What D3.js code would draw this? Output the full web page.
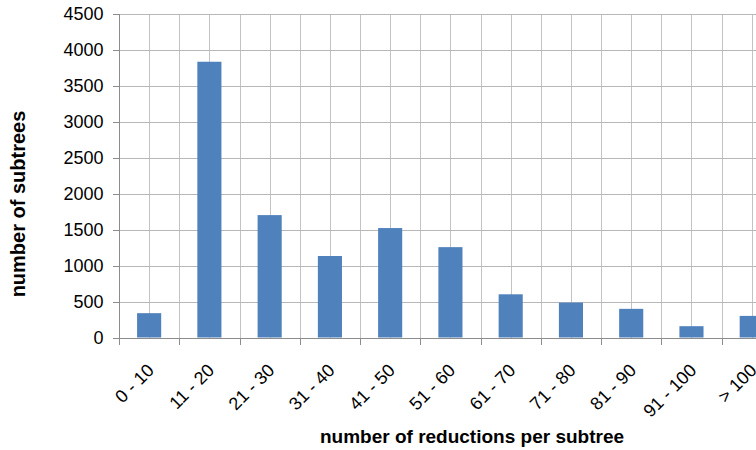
<!DOCTYPE html>
<html>
<head>
<meta charset="utf-8">
<script src="https://cdn.jsdelivr.net/npm/d3@7"></script>
<style>
  html, body { margin: 0; padding: 0; background: #ffffff; }
  svg { display: block; font-family: "Liberation Sans", Arial, sans-serif; }
</style>
</head>
<body>
<svg id="chart" width="756" height="450"></svg>
<script>
// Histogram of reductions per subtree
const categories = ["0 - 10", "11 - 20", "21 - 30", "31 - 40", "41 - 50", "51 - 60",
                    "61 - 70", "71 - 80", "81 - 90", "91 - 100", "> 100"];
const subtreeCounts = [338, 3830, 1700, 1132, 1520, 1255, 600, 485, 398, 157, 300];
const yTicks = [0, 500, 1000, 1500, 2000, 2500, 3000, 3500, 4000, 4500];

const svg = d3.select("#chart");
const plot = { left: 119, top: 13.5, bottom: 337.5 };
const step = 60.26;
const plotRight = plot.left + step * categories.length;

const x = d3.scaleBand().domain(categories).range([plot.left, plotRight]).padding(0);
const y = d3.scaleLinear().domain([0, 4500]).range([plot.bottom, plot.top]);

// vertical gridlines at every half category
const half = d3.scaleLinear().domain([0, categories.length]).range([plot.left, plotRight]);
const halfSteps = d3.range(1, categories.length * 2 + 1).map(i => i / 2);

const grid = svg.append("g").attr("shape-rendering", "crispEdges");
grid.selectAll("line.v").data(halfSteps).join("line")
  .attr("class", "v")
  .attr("x1", d => Math.round(half(d)) + 0.5).attr("x2", d => Math.round(half(d)) + 0.5)
  .attr("y1", plot.top).attr("y2", plot.bottom)
  .attr("stroke", "#c3c3c3").attr("stroke-width", 1);
grid.selectAll("line.h").data(yTicks.filter(d => d > 0)).join("line")
  .attr("class", "h")
  .attr("x1", plot.left).attr("x2", plotRight)
  .attr("y1", d => Math.round(y(d)) + 0.5).attr("y2", d => Math.round(y(d)) + 0.5)
  .attr("stroke", "#b8b8b8").attr("stroke-width", 1);

// bars: 40% of the category width, centred in each category
const barW = x.bandwidth() * 0.4;
svg.append("g").selectAll("rect").data(categories).join("rect")
  .attr("x", d => x(d) + (x.bandwidth() - barW) / 2)
  .attr("width", barW)
  .attr("y", (d, i) => y(subtreeCounts[i]))
  .attr("height", (d, i) => y(0) - y(subtreeCounts[i]))
  .attr("fill", "#4f81bd");

// y axis
const yAxis = d3.axisLeft(y).tickValues(yTicks).tickSize(6).tickPadding(9).tickFormat(d3.format("d"));
const gy = svg.append("g").attr("transform", `translate(${plot.left - 0.5},0)`).call(yAxis);
gy.select(".domain").attr("stroke", "#8c8c8c").attr("shape-rendering", "crispEdges");
gy.selectAll(".tick line").attr("stroke", "#8c8c8c").attr("shape-rendering", "crispEdges");
gy.selectAll(".tick text").attr("font-size", "18px").attr("fill", "#000")
  .attr("font-family", "'Liberation Sans', Arial, sans-serif");

// x axis: ticks at category boundaries
const boundaries = d3.range(0, categories.length + 1);
const gx = svg.append("g").attr("shape-rendering", "crispEdges");
gx.append("line")
  .attr("x1", plot.left).attr("x2", plotRight)
  .attr("y1", Math.round(y(0)) + 0.5).attr("y2", Math.round(y(0)) + 0.5)
  .attr("stroke", "#8c8c8c");
gx.selectAll("line.tk").data(boundaries).join("line")
  .attr("class", "tk")
  .attr("x1", d => Math.round(half(d)) + 0.5).attr("x2", d => Math.round(half(d)) + 0.5)
  .attr("y1", Math.round(y(0)) + 0.5).attr("y2", Math.round(y(0)) + 6.5)
  .attr("stroke", "#8c8c8c");

// rotated category labels
svg.append("g").selectAll("text").data(categories).join("text")
  .attr("transform", d => `translate(${x(d) + x.bandwidth() / 2 + 6},${plot.bottom + 34}) rotate(-45)`)
  .attr("text-anchor", "end")
  .attr("font-size", "18px")
  .attr("fill", "#000")
  .text(d => d);

// axis titles
svg.append("text")
  .attr("x", 472).attr("y", 443)
  .attr("text-anchor", "middle")
  .attr("font-size", "19px").attr("font-weight", "bold")
  .text("number of reductions per subtree");

svg.append("text")
  .attr("transform", "translate(25,204) rotate(-90)")
  .attr("text-anchor", "middle")
  .attr("font-size", "20px").attr("font-weight", "bold")
  .text("number of subtrees");
</script>
</body>
</html>
